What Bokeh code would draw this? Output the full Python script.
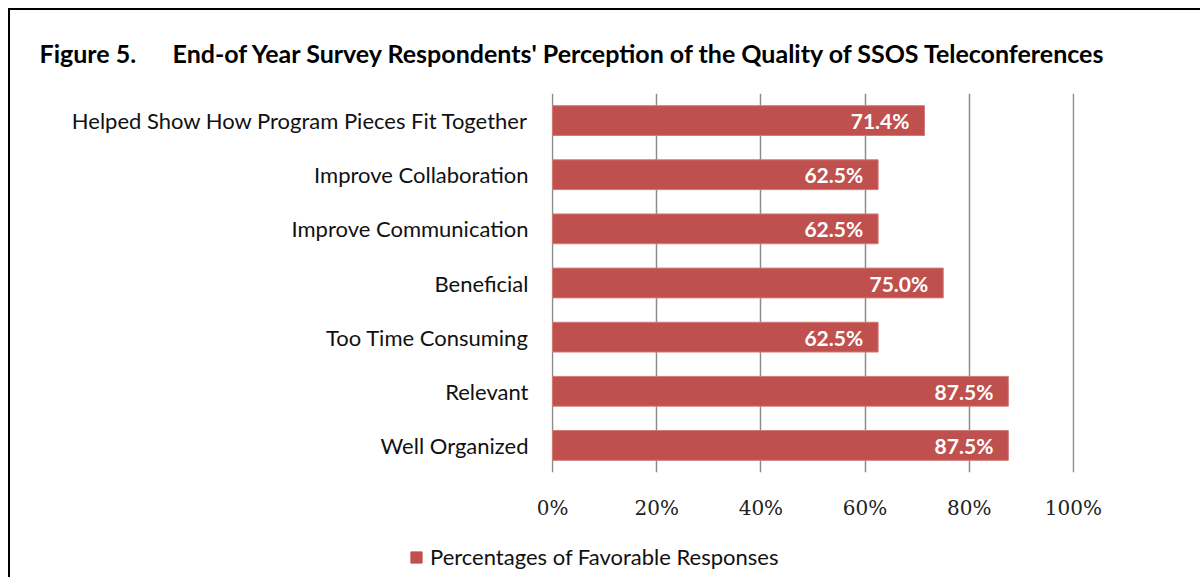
from bokeh.plotting import figure
from bokeh.layouts import column
from bokeh.models import ColumnDataSource, FactorRange, Range1d, Legend, LegendItem, FixedTicker, CustomJSTickFormatter
from bokeh.core.properties import value
from bokeh.embed import file_html
from bokeh.resources import INLINE

categories = ["Helped Show How Program Pieces Fit Together", "Improve Collaboration",
              "Improve Communication", "Beneficial", "Too Time Consuming",
              "Relevant", "Well Organized"]
values = [71.4, 62.5, 62.5, 75.0, 62.5, 87.5, 87.5]
labels = ["71.4%", "62.5%", "62.5%", "75.0%", "62.5%", "87.5%", "87.5%"]
x_ticks = [0, 20, 40, 60, 80, 100]
series_name = "Percentages of Favorable Responses"
title_a = "Figure 5."
title_b = "End-of Year Survey Respondents' Perception of the Quality of SSOS Teleconferences"
bar_color = "#C0504D"

src = ColumnDataSource(dict(cat=categories, val=values, lab=labels))

p = figure(width=1190, height=530, output_backend="svg", toolbar_location=None,
           y_range=FactorRange(factors=list(reversed(categories))),
           x_range=Range1d(-0.2, 100.2),
           min_border_left=541, min_border_right=126, min_border_top=83, min_border_bottom=68)
p.frame_align = False
p.outline_line_color = None
p.background_fill_color = "white"

p.title.text = title_a + "\u00a0" * 6 + title_b
p.title.align = "left"
p.title.offset = -512
p.title.standoff = 51
p.title.text_font = "Lato"
p.title.text_font_size = "25px"
p.title.text_font_style = "bold"
p.title.text_color = "#000000"

p.hbar(y="cat", right="val", left=0, height=0.55, source=src,
       fill_color=bar_color, line_color="#D27A77", line_width=1)

p.text(x="val", y="cat", text="lab", source=src, text_align="right", text_baseline="middle",
       x_offset=-15, text_color="white", text_font=value("Lato"), text_font_size="21px",
       text_font_style="bold")

p.xgrid.grid_line_color = "#8C8C8C"
p.xgrid.grid_line_width = 1.5
p.ygrid.grid_line_color = None
p.xaxis.ticker = FixedTicker(ticks=x_ticks)
p.xaxis.formatter = CustomJSTickFormatter(code="return tick + '%';")
p.xaxis.axis_line_color = None
p.xaxis.major_tick_line_color = None
p.xaxis.major_tick_out = 0
p.xaxis.minor_tick_line_color = None
p.xaxis.major_label_text_font = "DejaVu Serif"
p.xaxis.major_label_text_font_size = "20px"
p.xaxis.major_label_text_color = "#222222"
p.xaxis.major_label_standoff = 23

p.yaxis.axis_line_color = None
p.yaxis.major_tick_line_color = None
p.yaxis.major_tick_out = 0
p.yaxis.minor_tick_line_color = None
p.yaxis.major_label_text_font = "Lato"
p.yaxis.major_label_text_font_size = "22px"
p.yaxis.major_label_text_color = "#111111"
p.yaxis.major_label_standoff = 23

# legend strip (separate figure so the legend is not clipped by the bar frame)
lg = figure(width=1190, height=37, output_backend="svg", toolbar_location=None,
            x_range=Range1d(0, 1), y_range=Range1d(0, 1),
            min_border_left=0, min_border_right=0, min_border_top=0, min_border_bottom=0)
lg.frame_align = False
lg.axis.visible = False
lg.grid.visible = False
lg.outline_line_color = None
swatch = ColumnDataSource(dict(y=[float("nan")], right=[float("nan")]))
lr = lg.hbar(y="y", right="right", left=0, height=0.5, source=swatch,
             fill_color=bar_color, line_color=bar_color)
legend = Legend(items=[LegendItem(label=series_name, renderers=[lr], index=0)],
                location=(399, 7), orientation="horizontal",
                glyph_width=14, glyph_height=14, label_standoff=7, padding=0, margin=0,
                border_line_color=None, background_fill_alpha=0,
                label_text_font="Lato", label_text_font_size="22px", label_text_color="#111111")
lg.add_layout(legend, "center")

layout = column(p, lg, spacing=0,
                styles={"margin-top": "8px", "margin-left": "8px",
                        "border-top": "2px solid #000", "border-left": "2px solid #000"})

open("out.html", "w").write(file_html(layout, INLINE))
